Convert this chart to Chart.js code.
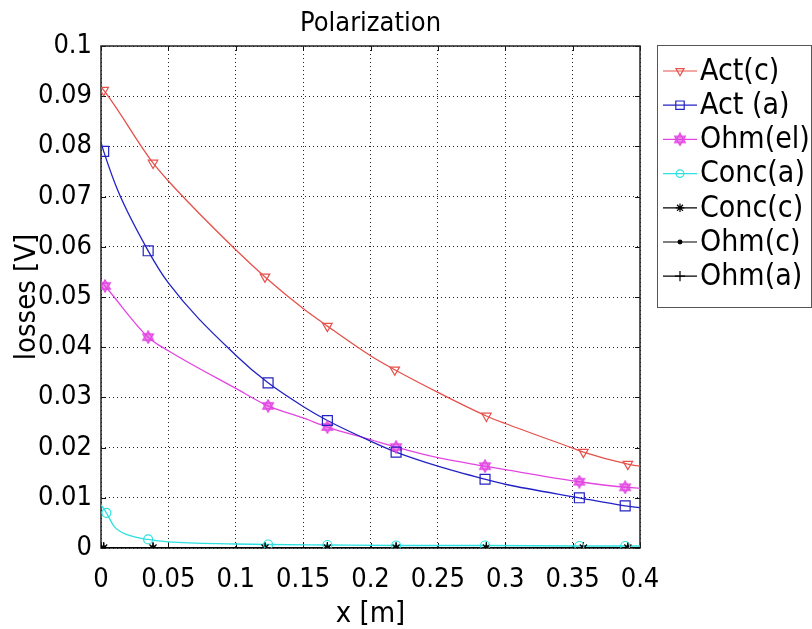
<!DOCTYPE html>
<html>
<head>
<meta charset="utf-8">
<script src="https://cdn.jsdelivr.net/npm/chart.js@4.4.1/dist/chart.umd.min.js"></script>
<style>
  html, body { margin: 0; padding: 0; background: #fff; }
  #wrap { width: 812px; height: 629px; }
</style>
</head>
<body>
<div id="wrap"><canvas id="chart"></canvas></div>
<script>
const FONT = "'DejaVu Sans Condensed', 'DejaVu Sans', sans-serif";

const chartTitle = 'Polarization';
const xTitle = 'x [m]';
const yTitle = 'losses [V]';
const xTickLabels = ['0', '0.05', '0.1', '0.15', '0.2', '0.25', '0.3', '0.35', '0.4'];
const yTickLabels = ['0', '0.01', '0.02', '0.03', '0.04', '0.05', '0.06', '0.07', '0.08', '0.09', '0.1'];
const seriesNames = ['Act(c)', 'Act (a)', 'Ohm(el)', 'Conc(a)', 'Conc(c)', 'Ohm(c)', 'Ohm(a)'];

// curve samples (x in m, losses in V)
const actCX = [0, 0.002, 0.0386, 0.05, 0.1, 0.1217, 0.15, 0.168, 0.2, 0.218, 0.25, 0.286, 0.3, 0.35, 0.358, 0.391, 0.4];
const actCY = [0.0918, 0.0912, 0.0767, 0.0731, 0.0594, 0.054, 0.0477, 0.0442, 0.0383, 0.0355, 0.031, 0.0263, 0.0248, 0.0199, 0.0191, 0.0167, 0.0163];
const actCMarks = [0.002, 0.0386, 0.1217, 0.168, 0.218, 0.286, 0.358, 0.391];

const actAX = [0, 0.002, 0.0128, 0.035, 0.05, 0.1, 0.124, 0.15, 0.168, 0.2, 0.219, 0.25, 0.285, 0.3, 0.355, 0.389, 0.4];
const actAY = [0.0808, 0.079, 0.071, 0.0592, 0.0528, 0.0384, 0.0329, 0.0282, 0.0254, 0.0213, 0.0191, 0.0163, 0.0137, 0.0127, 0.01, 0.0084, 0.008];
const actAMarks = [0.002, 0.035, 0.124, 0.168, 0.219, 0.285, 0.355, 0.389];

const ohmElX = [0, 0.003, 0.035, 0.05, 0.1, 0.124, 0.15, 0.168, 0.2, 0.219, 0.25, 0.285, 0.3, 0.355, 0.389, 0.4];
const ohmElY = [0.0531, 0.0522, 0.042, 0.0393, 0.0318, 0.0283, 0.0259, 0.0241, 0.0216, 0.0201, 0.018, 0.0163, 0.0156, 0.0132, 0.0121, 0.0119];
const ohmElMarks = [0.003, 0.035, 0.124, 0.168, 0.219, 0.285, 0.355, 0.389];

const concAX = [0, 0.004, 0.01, 0.02, 0.035, 0.05, 0.1, 0.124, 0.168, 0.219, 0.285, 0.355, 0.389, 0.4];
const concAY = [0.0086, 0.007, 0.0042, 0.0026, 0.0017, 0.0012, 0.0008, 0.0007, 0.0006, 0.0005, 0.0005, 0.0004, 0.0004, 0.0004];
const concAMarks = [0.004, 0.035, 0.124, 0.168, 0.219, 0.285, 0.355, 0.389];

const zeroX = [0, 0.002, 0.0386, 0.1217, 0.168, 0.219, 0.286, 0.358, 0.391, 0.4];
const concCY = [0, 0, 0, 0, 0, 0, 0, 0, 0, 0];
const ohmCY = [0, 0, 0, 0, 0, 0, 0, 0, 0, 0];
const ohmAY = [0, 0, 0, 0, 0, 0, 0, 0, 0, 0];
const zeroMarks = [0.002, 0.0386, 0.1217, 0.168, 0.219, 0.286, 0.358, 0.391];

const RED = '#e5514b', BLUE = '#2222c4', MAGENTA = '#e245e2', CYAN = '#2ee0e0', BLACK = '#000';

// six-pointed star marker for Ohm(el)
const hexagram = (() => {
  const c = document.createElement('canvas');
  c.width = 14; c.height = 14;
  const g = c.getContext('2d');
  g.strokeStyle = MAGENTA; g.lineWidth = 1.4;
  g.fillStyle = 'rgba(226,69,226,0.35)';
  for (const rot of [-Math.PI / 2, Math.PI / 2]) {
    g.beginPath();
    for (let k = 0; k < 3; k++) {
      const a = rot + k * 2 * Math.PI / 3;
      const px = 7 + 6 * Math.cos(a), py = 7 + 6 * Math.sin(a);
      k ? g.lineTo(px, py) : g.moveTo(px, py);
    }
    g.closePath(); g.fill(); g.stroke();
  }
  return c;
})();

const series = [
  { name: seriesNames[0], xs: actCX, ys: actCY, marks: actCMarks, color: RED, style: 'triangle', radius: 5.5, rotation: 180, fill: 'rgba(0,0,0,0)' },
  { name: seriesNames[1], xs: actAX, ys: actAY, marks: actAMarks, color: BLUE, style: 'rect', radius: 7, rotation: 0, fill: 'rgba(0,0,0,0)' },
  { name: seriesNames[2], xs: ohmElX, ys: ohmElY, marks: ohmElMarks, color: MAGENTA, style: hexagram, radius: 6, rotation: 0, fill: 'rgba(0,0,0,0)' },
  { name: seriesNames[3], xs: concAX, ys: concAY, marks: concAMarks, color: CYAN, style: 'circle', radius: 4.5, rotation: 0, fill: 'rgba(0,0,0,0)' },
  { name: seriesNames[4], xs: zeroX, ys: concCY, marks: zeroMarks, color: BLACK, style: 'star', radius: 5, rotation: 0, fill: 'rgba(0,0,0,0)' },
  { name: seriesNames[5], xs: zeroX, ys: ohmCY, marks: zeroMarks, color: BLACK, style: 'circle', radius: 2.2, rotation: 0, fill: BLACK },
  { name: seriesNames[6], xs: zeroX, ys: ohmAY, marks: zeroMarks, color: BLACK, style: 'cross', radius: 6, rotation: 0, fill: 'rgba(0,0,0,0)' },
];

const xTicks = xTickLabels.map(Number);
const yTicks = yTickLabels.map(Number);

const datasets = [];
series.forEach((s, i) => {
  const pts = s.xs.map((x, k) => ({ x, y: s.ys[k] }));
  datasets.push({
    label: s.name,
    data: pts,
    showLine: true,
    borderColor: s.color,
    borderWidth: 1.3,
    pointRadius: 0,
    cubicInterpolationMode: 'monotone',
    order: 20 + i,
  });
  datasets.push({
    label: s.name + ' markers',
    data: pts.filter(p => s.marks.includes(p.x)),
    showLine: false,
    pointStyle: s.style,
    pointRadius: s.radius,
    pointRotation: s.rotation,
    pointBorderColor: s.color,
    pointBackgroundColor: s.fill,
    pointBorderWidth: 1.2,
    order: i,
  });
});

const decor = {
  id: 'decor',
  beforeDatasetsDraw(chart) {
    const { ctx, chartArea: a, scales: { x, y } } = chart;
    ctx.save();
    ctx.strokeStyle = '#111';
    ctx.lineWidth = 1;
    ctx.beginPath();
    yTicks.forEach(v => {
      const py = Math.round(y.getPixelForValue(v)) + 0.5;
      ctx.moveTo(a.left, py); ctx.lineTo(a.left + 5, py);
      ctx.moveTo(a.right, py); ctx.lineTo(a.right - 5, py);
    });
    xTicks.forEach(v => {
      const px = Math.round(x.getPixelForValue(v)) + 0.5;
      ctx.moveTo(px, a.bottom); ctx.lineTo(px, a.bottom - 5);
      ctx.moveTo(px, a.top); ctx.lineTo(px, a.top + 5);
    });
    ctx.stroke();
    ctx.lineWidth = 1.5;
    ctx.strokeStyle = '#222';
    ctx.strokeRect(a.left, a.top, a.right - a.left, a.bottom - a.top);
    ctx.restore();
  },
  afterDraw(chart) {
    const { ctx, chartArea: a } = chart;
    ctx.save();
    // title
    ctx.fillStyle = '#000';
    ctx.font = `27px ${FONT}`;
    ctx.textAlign = 'center';
    ctx.textBaseline = 'middle';
    ctx.fillText(chartTitle, (a.left + a.right) / 2, 24);
    // legend
    ctx.strokeStyle = '#555';
    ctx.lineWidth = 1;
    ctx.strokeRect(657.5, 45.5, 154, 262);
    ctx.font = `30px ${FONT}`;
    ctx.textAlign = 'left';
    series.forEach((s, i) => {
      const ry = 71 + i * 34.2;
      ctx.strokeStyle = s.color;
      ctx.lineWidth = 1.2;
      ctx.beginPath();
      ctx.moveTo(663, ry); ctx.lineTo(697, ry);
      ctx.stroke();
      ctx.fillStyle = s.fill;
      Chart.helpers.drawPoint(ctx, { pointStyle: s.style, radius: s.radius * 0.85, rotation: s.rotation, borderWidth: 1.2 }, 680, ry);
      ctx.fillStyle = '#000';
      ctx.fillText(s.name, 700, ry + 1);
    });
    ctx.restore();
  }
};

new Chart(document.getElementById('chart'), {
  type: 'scatter',
  data: { datasets },
  options: {
    responsive: true,
    maintainAspectRatio: false,
    animation: false,
    layout: { padding: { top: 46, right: 172, left: 0, bottom: 0 } },
    plugins: { legend: { display: false }, tooltip: { enabled: false }, title: { display: false } },
    scales: {
      x: {
        type: 'linear', min: 0, max: 0.4,
        afterBuildTicks: s => { s.ticks = xTicks.map(v => ({ value: v })); },
        afterFit: s => { s.height = 81; },
        ticks: { padding: 16, color: '#000', font: { family: FONT, size: 27 }, maxRotation: 0,
                 callback: (v, i) => xTickLabels[i] },
        grid: { color: '#222', lineWidth: 1, drawTicks: false },
        border: { display: false, dash: [1, 3] },
        title: { display: true, text: xTitle, color: '#000', font: { family: FONT, size: 29, lineHeight: 1 }, padding: { top: -3, bottom: 0 } },
      },
      y: {
        type: 'linear', min: 0, max: 0.1,
        afterBuildTicks: s => { s.ticks = yTicks.map(v => ({ value: v })); },
        afterFit: s => { s.width = 101; },
        ticks: { padding: 9, color: '#000', font: { family: FONT, size: 27 },
                 callback: (v, i) => yTickLabels[i] },
        grid: { color: '#222', lineWidth: 1, drawTicks: false },
        border: { display: false, dash: [1, 3] },
        title: { display: true, text: yTitle, color: '#000', font: { family: FONT, size: 29, lineHeight: 1 }, padding: { top: 13, bottom: 0 } },
      },
    },
  },
  plugins: [decor],
});
</script>
</body>
</html>
